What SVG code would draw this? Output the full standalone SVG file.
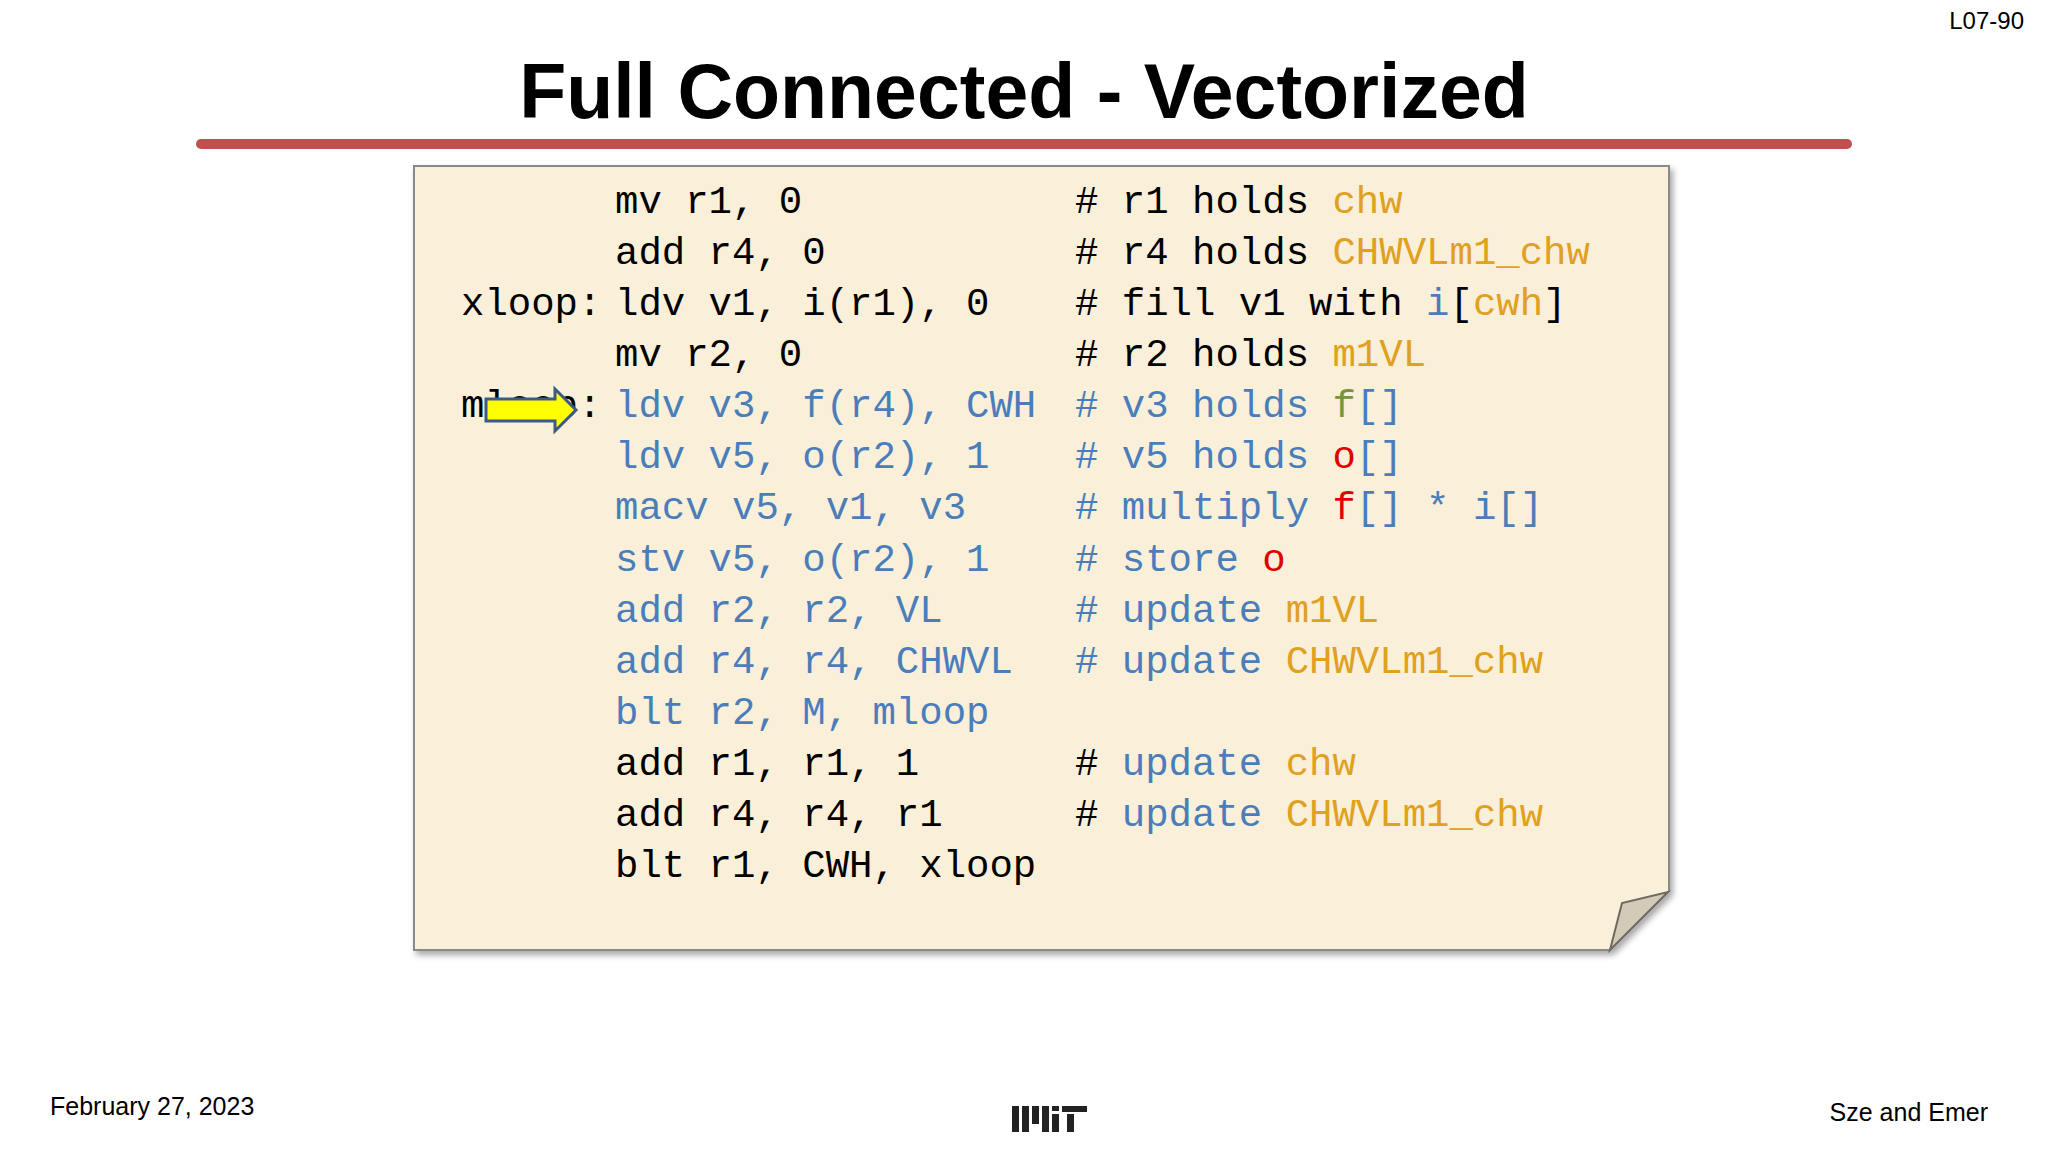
<svg xmlns="http://www.w3.org/2000/svg" width="2048" height="1152" viewBox="0 0 2048 1152">
<defs>
<style>
.c{font-family:"Liberation Mono","DejaVu Sans Mono",monospace;font-size:39px;fill:#000;white-space:pre}
.b{fill:#4a7ebb}.o{fill:#e0a020}.g{fill:#77933c}.r{fill:#e00000}.k{fill:#000}
.s{font-family:"Liberation Sans",Arial,sans-serif;fill:#000}
</style>
<filter id="sh" x="-5%" y="-5%" width="110%" height="110%"><feDropShadow dx="3" dy="4" stdDeviation="3" flood-color="#000" flood-opacity="0.35"/></filter>
</defs>
<rect width="2048" height="1152" fill="#fff"/>
<text class="s" x="2024" y="29" font-size="24" text-anchor="end">L07-90</text>
<text class="s" x="1024" y="118" font-size="77" font-weight="bold" text-anchor="middle">Full Connected - Vectorized</text>
<line x1="201" y1="144" x2="1847" y2="144" stroke="#c0504d" stroke-width="10" stroke-linecap="round"/>
<g id="paper">
<path d="M414,166 H1669 V891 L1610,950 H414 Z" fill="#faefd9" stroke="#8a8a8a" stroke-width="2" filter="url(#sh)"/>
<path d="M1610,950 L1622,903 L1668,892 Z" fill="#d3cbb8" stroke="#6f6a5e" stroke-width="2"/>
</g>
<g id="code">
<text class="c" x="615" y="213">mv r1, 0</text>
<text class="c" x="615" y="264">add r4, 0</text>
<text class="c" x="461" y="315">xloop:</text>
<text class="c" x="615" y="315">ldv v1, i(r1), 0</text>
<text class="c" x="615" y="366">mv r2, 0</text>
<text class="c" x="461" y="417">mloop:</text>
<text class="c b" x="615" y="417">ldv v3, f(r4), CWH</text>
<text class="c b" x="615" y="468">ldv v5, o(r2), 1</text>
<text class="c b" x="615" y="519">macv v5, v1, v3</text>
<text class="c b" x="615" y="571">stv v5, o(r2), 1</text>
<text class="c b" x="615" y="622">add r2, r2, VL</text>
<text class="c b" x="615" y="673">add r4, r4, CHWVL</text>
<text class="c b" x="615" y="724">blt r2, M, mloop</text>
<text class="c" x="615" y="775">add r1, r1, 1</text>
<text class="c" x="615" y="826">add r4, r4, r1</text>
<text class="c" x="615" y="877">blt r1, CWH, xloop</text>
</g>
<g id="comments">
<text class="c" x="1075" y="213"># r1 holds <tspan class="o">chw</tspan></text>
<text class="c" x="1075" y="264"># r4 holds <tspan class="o">CHWVLm1_chw</tspan></text>
<text class="c" x="1075" y="315"># fill v1 with <tspan class="b">i</tspan>[<tspan class="o">cwh</tspan>]</text>
<text class="c" x="1075" y="366"># r2 holds <tspan class="o">m1VL</tspan></text>
<text class="c b" x="1075" y="417"># v3 holds <tspan class="g">f</tspan>[]</text>
<text class="c b" x="1075" y="468"># v5 holds <tspan class="r">o</tspan>[]</text>
<text class="c b" x="1075" y="519"># multiply <tspan class="r">f</tspan>[] * i[]</text>
<text class="c b" x="1075" y="571"># store <tspan class="r">o</tspan></text>
<text class="c b" x="1075" y="622"># update <tspan class="o">m1VL</tspan></text>
<text class="c b" x="1075" y="673"># update <tspan class="o">CHWVLm1_chw</tspan></text>
<text class="c" x="1075" y="775"># <tspan class="b">update</tspan> <tspan class="o">chw</tspan></text>
<text class="c" x="1075" y="826"># <tspan class="b">update</tspan> <tspan class="o">CHWVLm1_chw</tspan></text>
</g>
<g id="arrow">
<path d="M486,399 H555 V389 L576,410 L555,431 V421 H486 Z" fill="#ffff00" stroke="#3b5a86" stroke-width="3" stroke-linejoin="miter"/>
</g>
<text class="s" x="50" y="1115" font-size="25">February 27, 2023</text>
<text class="s" x="1988" y="1121" font-size="25" text-anchor="end">Sze and Emer</text>
<g id="logo" fill="#222">
<rect x="1012" y="1106" width="7" height="26"/>
<rect x="1022" y="1106" width="7" height="26"/>
<rect x="1032" y="1106" width="7" height="18"/>
<rect x="1042" y="1106" width="7" height="26"/>
<rect x="1052" y="1106" width="7" height="5"/>
<rect x="1052" y="1114" width="7" height="18"/>
<rect x="1062" y="1106" width="25" height="6"/>
<rect x="1067" y="1114" width="7" height="18"/>
</g>
</svg>
